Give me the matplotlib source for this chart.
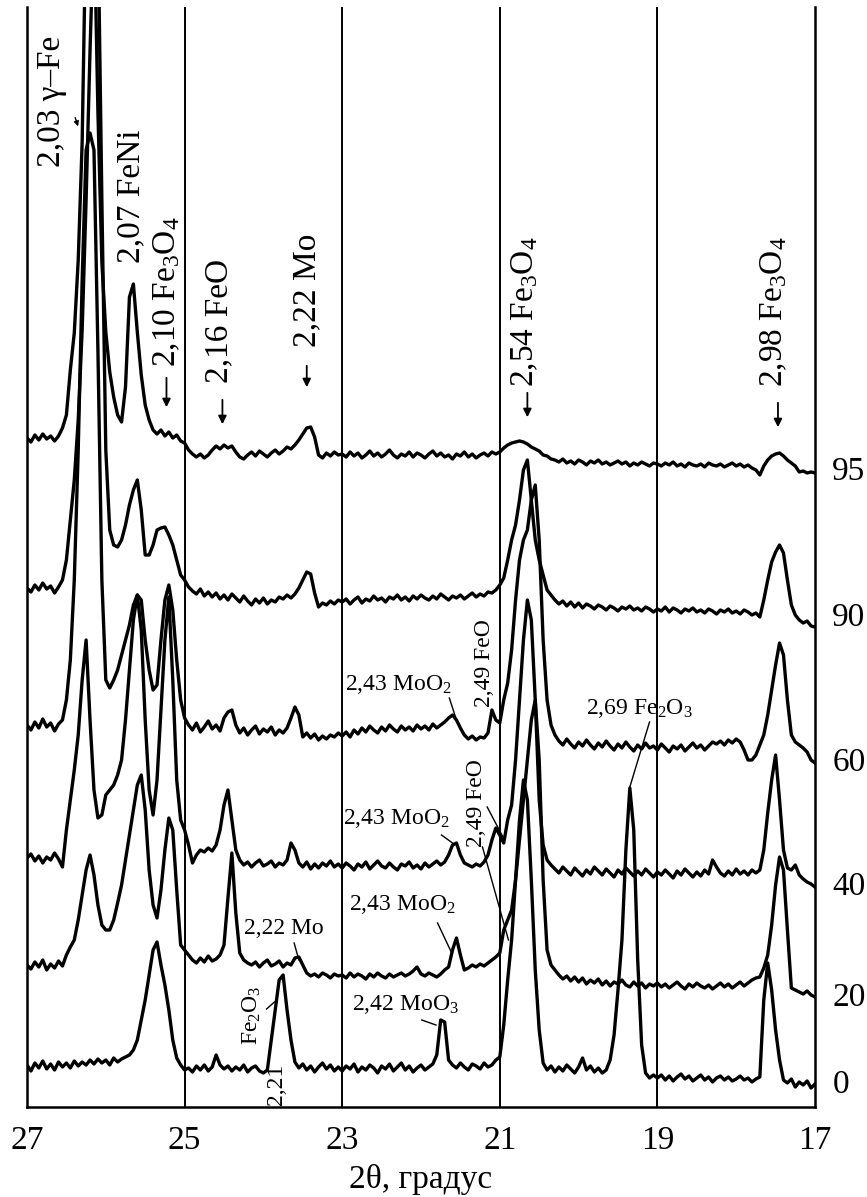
import numpy as np
import matplotlib
matplotlib.use("Agg")
import matplotlib.pyplot as plt
from matplotlib.transforms import blended_transform_factory

plt.rcParams['font.family'] = ['Liberation Serif', 'DejaVu Serif']
plt.rcParams['mathtext.fontset'] = 'custom'
plt.rcParams['mathtext.rm'] = 'Liberation Serif'
plt.rcParams['mathtext.it'] = 'Liberation Serif:italic'

# ---------------- data ----------------
two_theta = np.round(np.linspace(27, 17, 201), 2)   # 0.05 deg sampling grid
samples = ['0', '20', '40', '60', '90', '95']
offsets = [22, 109, 220, 344, 489, 635]
xticks = [27, 25, 23, 21, 19, 17]
gridlines = [25, 23, 21, 19]

int_95 = [34, 30, 37, 32, 38, 33, 36, 31, 36, 44,
          57, 102, 139, 212, 330, 560, 560, 560, 360, 210,
          140, 100, 75, 57, 50, 85, 175, 188, 140, 97,
          67, 52, 42, 38, 42, 36, 40, 34, 37, 31,
          29, 22, 18, 15, 18, 14, 17, 22, 26, 23,
          27, 24, 26, 20, 15, 13, 17, 20, 16, 21,
          18, 15, 19, 22, 18, 21, 25, 23, 27, 32,
          38, 44, 45, 35, 17, 14, 19, 16, 20, 17,
          18, 15, 20, 16, 19, 14, 17, 21, 16, 19,
          15, 18, 22, 17, 14, 18, 16, 20, 15, 19,
          17, 14, 18, 21, 16, 19, 15, 17, 13, 18,
          16, 20, 15, 18, 14, 17, 19, 16, 20, 18,
          20, 24, 27, 29, 30, 31, 30, 28, 25, 23,
          21, 17, 16, 13, 12, 10, 13, 9, 11, 8,
          12, 10, 7, 11, 9, 12, 8, 10, 7, 9,
          11, 8, 10, 6, 9, 7, 10, 8, 6, 9,
          8, 6, 9, 7, 10, 6, 8, 5, 9, 7,
          6, 8, 5, 9, 7, 6, 8, 5, 7, 9,
          6, 8, 5, 7, 4, 2, -3, 6, 12, 16,
          18, 19, 16, 12, 9, 6, 0, 1, -1, 0,
          -1]

int_90 = [30, 26, 33, 28, 35, 29, 32, 25, 31, 38,
          58, 98, 138, 198, 288, 418, 568, 700, 700, 418,
          168, 88, 73, 71, 78, 93, 113, 128, 138, 108,
          63, 63, 73, 88, 90, 91, 83, 73, 58, 43,
          38, 31, 27, 24, 29, 22, 26, 21, 25, 19,
          23, 18, 24, 20, 16, 22, 17, 13, 19, 15,
          20, 14, 18, 16, 21, 19, 23, 20, 24, 30,
          38, 46, 44, 25, 11, 15, 13, 17, 14, 18,
          16, 19, 14, 18, 21, 15, 19, 17, 22, 18,
          20, 16, 21, 19, 23, 18, 21, 17, 22, 19,
          23, 20, 18, 22, 19, 24, 21, 18, 22, 20,
          23, 19, 22, 25, 21, 24, 22, 26, 25, 28,
          33, 40, 58, 78, 93, 118, 148, 158, 118, 78,
          58, 43, 28, 23, 18, 14, 17, 12, 16, 11,
          15, 10, 14, 12, 9, 13, 11, 8, 12, 10,
          7, 11, 9, 12, 8, 10, 7, 11, 9, 6,
          9, 7, 11, 6, 10, 8, 5, 9, 7, 10,
          6, 8, 5, 9, 7, 4, 8, 6, 9, 5,
          7, 4, 8, 6, 3, 5, 1, 18, 38, 56,
          66, 73, 65, 38, 13, 3, -2, -5, -3, -8,
          -9]

int_60 = [38, 33, 41, 35, 44, 36, 40, 32, 39, 43,
          63, 103, 183, 313, 483, 613, 630, 613, 413, 183,
          83, 75, 83, 93, 108, 123, 138, 158, 168, 163,
          123, 93, 73, 78, 123, 163, 178, 153, 103, 63,
          45, 38, 33, 40, 31, 36, 42, 34, 38, 32,
          45, 51, 53, 38, 30, 35, 28, 33, 37, 29,
          34, 31, 36, 28, 33, 30, 35, 45, 56, 48,
          26, 30, 25, 29, 23, 27, 24, 28, 26, 30,
          27, 31, 26, 33, 29, 35, 31, 37, 33, 30,
          36, 32, 38, 34, 31, 37, 33, 36, 32, 38,
          34, 37, 33, 39, 35, 38, 41, 45, 48, 43,
          35, 28, 24, 27, 23, 26, 25, 30, 53, 43,
          40, 63, 80, 113, 163, 203, 223, 233, 263, 278,
          223, 123, 63, 38, 28, 22, 18, 24, 19, 15,
          21, 17, 23, 18, 14, 20, 16, 22, 17, 13,
          19, 15, 21, 16, 12, 18, 14, 20, 15, 17,
          13, 19, 15, 11, 17, 14, 18, 12, 16, 20,
          15, 18, 13, 17, 21, 19, 22, 18, 23, 20,
          24, 21, 13, 3, 3, 8, 18, 28, 48, 73,
          98, 120, 108, 63, 28, 21, 18, 15, 11, 3,
          0]

int_40 = [29, 33, 26, 31, 24, 30, 27, 34, 28, 20,
          57, 87, 117, 152, 207, 247, 167, 97, 69, 72,
          92, 97, 102, 112, 127, 167, 217, 267, 292, 257,
          167, 97, 72, 107, 177, 247, 290, 207, 107, 67,
          57, 42, 24, 32, 37, 35, 39, 36, 42, 57,
          82, 97, 67, 37, 27, 22, 25, 20, 24, 27,
          21, 23, 26, 20, 24, 22, 27, 44, 37, 24,
          20, 25, 18, 23, 19, 24, 21, 26, 20, 23,
          19, 24, 21, 17, 23, 20, 25, 18, 22, 26,
          21, 19, 24, 20, 17, 23, 21, 25, 19, 22,
          18, 24, 20, 23, 26, 22, 25, 32, 42, 44,
          32, 24, 22, 20, 23, 21, 25, 32, 47, 59,
          52, 44, 67, 82, 127, 187, 247, 287, 267, 187,
          87, 42, 27, 22, 18, 14, 20, 16, 12, 19,
          15, 11, 17, 13, 20, 16, 12, 18, 14, 10,
          17, 13, 19, 15, 11, 16, 12, 18, 14, 10,
          15, 12, 17, 13, 9, 16, 12, 18, 14, 10,
          15, 11, 17, 13, 27, 20, 14, 11, 16, 12,
          18, 13, 16, 12, 17, 14, 17, 37, 74, 107,
          132, 87, 37, 19, 17, 22, 12, 8, 5, 3,
          0]

int_20 = [33, 29, 36, 31, 38, 28, 34, 30, 37, 32,
          43, 51, 58, 78, 103, 128, 143, 123, 93, 73,
          68, 68, 78, 95, 113, 138, 163, 188, 213, 223,
          188, 128, 93, 80, 108, 148, 180, 168, 108, 53,
          48, 43, 38, 35, 40, 36, 42, 37, 39, 43,
          53, 100, 145, 85, 45, 38, 35, 33, 36, 31,
          35, 38, 32, 34, 37, 31, 35, 33, 40, 41,
          33, 25, 22, 24, 21, 25, 23, 20, 24, 22,
          23, 20, 25, 21, 24, 22, 19, 24, 21, 25,
          22, 20, 24, 21, 23, 25, 22, 24, 27, 31,
          24, 22, 25, 23, 21, 24, 28, 31, 48, 60,
          43, 28, 30, 33, 31, 34, 32, 35, 38, 41,
          45, 68, 78, 88, 118, 158, 198, 238, 278, 298,
          238, 118, 48, 33, 28, 23, 19, 22, 17, 21,
          16, 20, 14, 18, 15, 19, 13, 17, 12, 16,
          14, 18, 13, 11, 16, 12, 15, 10, 14, 12,
          15, 11, 14, 10, 13, 16, 12, 9, 14, 11,
          15, 12, 10, 13, 9, 12, 15, 11, 14, 10,
          13, 16, 12, 15, 18, 20, 21, 30, 43, 73,
          113, 141, 128, 68, 10, 8, 6, 4, 7, 3,
          1]

int_0 = [20, 14, 22, 17, 24, 16, 21, 15, 23, 18,
         22, 17, 24, 19, 23, 20, 25, 21, 26, 22,
         25, 20, 27, 23, 26, 28, 30, 35, 45, 65,
         85, 110, 135, 143, 120, 100, 75, 45, 27, 20,
         15, 17, 13, 19, 15, 20, 14, 18, 30, 20,
         16, 19, 14, 18, 15, 20, 13, 17, 19, 14,
         12, 15, 45, 75, 105, 110, 75, 45, 23, 17,
         21, 15, 19, 13, 18, 22, 16, 20, 14, 18,
         14, 19, 16, 21, 13, 18, 15, 20, 17, 12,
         19, 16, 21, 14, 18, 22, 15, 19, 13, 17,
         20, 15, 18, 21, 30, 65, 63, 25, 20, 17,
         22, 18, 15, 21, 19, 16, 22, 18, 20, 25,
         28, 60, 105, 145, 205, 265, 305, 285, 205, 115,
         55, 22, 15, 19, 13, 18, 14, 20, 16, 12,
         18, 27, 15, 19, 13, 17, 12, 15, 25, 50,
         95, 145, 235, 297, 255, 125, 40, 12, 7, 10,
         7, 10, 5, 9, 4, 8, 11, 6, 9, 4,
         7, 10, 5, 8, 3, 7, 9, 5, 8, 4,
         6, 9, 5, 7, 3, 6, 8, 85, 122, 95,
         55, 25, 5, 2, 6, -2, 3, 0, 4, -3,
         1]

intensities = [int_0, int_20, int_40, int_60, int_90, int_95]

# ---------------- figure ----------------
fig = plt.figure(figsize=(8.67, 11.97), dpi=100)
ax = fig.add_axes([27 / 867, 90 / 1197, 788 / 867, 1100 / 1197])

for off, vals in zip(offsets, intensities):
    ax.plot(two_theta, off + np.asarray(vals), color='black', lw=2.4,
            solid_joinstyle='round')

for g in gridlines:
    ax.axvline(g, color='black', lw=1.4)

ax.set_xlim(27, 17)
ax.set_ylim(0, 1100)
ax.set_yticks([])
ax.set_xticks(xticks)
ax.set_xticklabels([str(t) for t in xticks])
ax.tick_params(axis='x', length=0, pad=13, labelsize=24)
ax.spines['top'].set_visible(False)
for s in ['left', 'right', 'bottom']:
    ax.spines[s].set_linewidth(1.8)
ax.set_xlabel('2θ, градус', fontsize=24, labelpad=6)

# sample labels at right
tr = blended_transform_factory(ax.transAxes, ax.transData)
for name, off in zip(samples, offsets):
    ax.text(1.022, off, name, transform=tr, fontsize=24, ha='left',
            va='center', clip_on=False)

# large rotated phase labels with arrows
big = [
    (26.69, 940, '2,03 γ–Fe'),
    (25.68, 844, '2,07 FeNi'),
    (25.23, 740, '2,10 Fe$_3$O$_4$'),
    (24.56, 724, '2,16 FeO'),
    (23.45, 760, '2,22 Mo'),
    (20.68, 720, '2,54 Fe$_3$O$_4$'),
    (17.52, 720, '2,98 Fe$_3$O$_4$'),
]
for x, y, s in big:
    ax.text(x, y, s, rotation=90, fontsize=24, ha='center', va='bottom')

arrows = [
    (25.23, 732, 697),
    (24.52, 710, 680),
    (23.45, 744, 717),
    (20.65, 717, 687),
    (17.47, 707, 677),
]
for x, y0, y1 in arrows:
    ax.annotate('', xy=(x, y1), xytext=(x, y0),
                arrowprops=dict(arrowstyle='-|>', color='black', lw=1.3,
                                mutation_scale=12))
ax.annotate('', xy=(26.34, 978), xytext=(26.40, 992),
            arrowprops=dict(arrowstyle='-|>', color='black', lw=1.0,
                            mutation_scale=7))

# small labels with leader lines
small = [
    (22.97, 422, '2,43 MoO$_2$', 0),
    (22.99, 289, '2,43 MoO$_2$', 0),
    (22.91, 202, '2,43 MoO$_2$', 0),
    (24.25, 179, '2,22 Mo', 0),
    (22.87, 102, '2,42 MoO$_3$', 0),
    (19.91, 399, '2,69 Fe$_2$O$_3$', 0),
]
for x, y, s, r in small:
    ax.text(x, y, s, fontsize=17, ha='left', va='center')

ax.text(21.19, 400, '2,49 FeO', rotation=90, fontsize=17, ha='center', va='bottom')
ax.text(21.29, 260, '2,49 FeO', rotation=90, fontsize=17, ha='center', va='bottom')
ax.text(24.15, 62, 'Fe$_2$O$_3$', rotation=90, fontsize=17, ha='center', va='bottom')
ax.text(23.83, 2, '2,21', rotation=90, fontsize=17, ha='center', va='bottom')

leaders = [
    ((21.64, 409), (21.55, 387)),
    ((19.10, 385), (19.35, 320)),
    ((21.74, 272), (21.60, 264)),
    ((21.16, 300), (20.96, 270)),
    ((21.22, 260), (20.89, 167)),
    ((21.79, 184), (21.61, 154)),
    ((23.61, 164), (23.55, 147)),
    ((21.99, 87), (21.81, 82)),
    ((23.96, 98), (23.86, 105)),
]
for (x0, y0), (x1, y1) in leaders:
    ax.plot([x0, x1], [y0, y1], color='black', lw=1.0)

fig.savefig('out.png', dpi=100)
